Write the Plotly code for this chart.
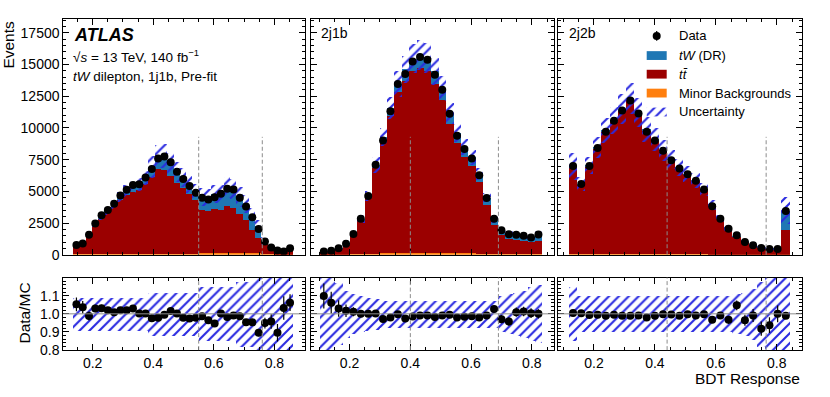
import numpy as np
import plotly.graph_objects as go
from plotly.subplots import make_subplots

W, H = 830, 397
FONT = "Liberation Sans, Arial, sans-serif"
COLORS = {
    "tw": "#1f77b4",
    "tt": "#9b0000",
    "minor": "#ff7f0e",
    "hatch": "#2a2ae0",
    "cut": "#8c8c8c",
}

# ---- 1j1b ----
edges_1j1b = (0.136, 0.862, 35)
range_1j1b = [0.103, 0.901]
cuts_1j1b = [0.55, 0.76]
data_1j1b = [760, 890, 1580, 2460, 3110, 3525, 4014, 4670, 5135, 5495, 5570, 6099, 6755, 7591, 7746,
             7295, 6550, 5970, 5417, 4889, 4503, 4349, 4540, 4812, 5210, 5147, 4503, 3809, 2959, 2035,
             1040, 566, 335, 257, 515]
mc_1j1b = [722, 859, 1598, 2391, 3016, 3456, 3978, 4578, 5034, 5340, 5559, 6087, 6928, 7762, 7785,
           7180, 6537, 6104, 5556, 4999, 4562, 4511, 4794, 4802, 5305, 5194, 4562, 3997, 3105, 2271,
           1096, 591, 374, 249, 485]
tw_1j1b = [29, 34, 64, 108, 151, 173, 219, 275, 327, 374, 417, 517, 762, 1009, 1090,
           933, 850, 794, 722, 650, 1049, 1038, 1199, 1249, 1485, 1506, 1369, 1279, 1118, 908,
           132, 59, 30, 20, 39]
minor_1j1b = [30, 35, 45, 55, 60, 65, 70, 75, 80, 80, 85, 90, 95, 100, 100,
              100, 95, 95, 90, 90, 170, 170, 175, 180, 185, 185, 180, 170, 150, 120,
              50, 30, 20, 15, 20]
unc_1j1b = [0.09] * 12 + [0.12] * 8 + [0.15] * 6 + [0.18] * 3 + [0.21] + [0.26] * 5

# ---- 2j1b ----
edges_2j1b = (0.103, 0.834, 30)
range_2j1b = [0.072, 0.873]
cuts_2j1b = [0.40, 0.69]
data_2j1b = [257, 309, 515, 875, 1647, 2831, 4632, 7102, 9007, 11323, 13459, 14256, 15234, 15594, 15389,
             14205, 13021, 11117, 9393, 8338, 7591, 6279, 4478, 2831, 1930, 1621, 1570, 1493, 1364, 1595]
mc_2j1b = [234, 291, 500, 860, 1629, 2831, 4632, 7088, 9276, 11554, 13486, 14622, 15466, 15736, 15529,
           14465, 13139, 11173, 9585, 8474, 7691, 6407, 4519, 2757, 1988, 1692, 1556, 1474, 1359, 1595]
tw_2j1b = [7, 9, 15, 26, 49, 85, 139, 213, 371, 578, 674, 877, 1005, 1023, 1009,
           1013, 920, 838, 767, 720, 692, 641, 587, 414, 437, 423, 405, 398, 381, 479]
minor_2j1b = [5, 6, 10, 18, 30, 50, 70, 90, 110, 120, 130, 140, 150, 150, 150,
              145, 140, 130, 120, 115, 110, 100, 80, 55, 40, 35, 33, 32, 30, 35]
unc_2j1b = [0.30, 0.22, 0.17, 0.13, 0.11, 0.10, 0.09, 0.085] + [0.075] * 16 + [0.10, 0.11, 0.12, 0.13, 0.15, 0.16]

# ---- 2j2b ----
edges_2j2b = (0.118, 0.843, 27)
range_2j2b = [0.083, 0.881]
cuts_2j2b = [0.44, 0.765]
data_2j2b = [7000, 5584, 7000, 8415, 9701, 10576, 11374, 12172, 11143, 9701, 9007, 8209, 7463, 6794,
             6356, 5841, 5147, 3834, 2831, 2059, 1544, 1004, 746, 540, 463, 463, 3448]
mc_2j2b = [6972, 5562, 7049, 8457, 9809, 10629, 11501, 12307, 11244, 9899, 9107, 8225, 7493, 6870,
           6369, 5894, 5157, 3965, 2857, 2129, 1475, 1041, 753, 588, 494, 463, 3486]
tw_2j2b = [50, 40, 50, 60, 70, 75, 80, 85, 80, 70, 65, 60, 55, 50,
           48, 45, 40, 32, 25, 20, 15, 12, 10, 9, 8, 10, 1556]
minor_2j2b = [40, 30, 40, 50, 55, 60, 65, 70, 65, 55, 50, 45, 42, 38,
              35, 33, 30, 22, 16, 12, 9, 6, 5, 4, 4, 4, 20]
unc_2j2b = [0.15] + [0.10] * 19 + [0.11, 0.12, 0.14, 0.18, 0.22, 0.25, 0.30]

regions = [
    ("1j1b", edges_1j1b, range_1j1b, cuts_1j1b, data_1j1b, mc_1j1b, tw_1j1b, minor_1j1b, unc_1j1b),
    ("2j1b", edges_2j1b, range_2j1b, cuts_2j1b, data_2j1b, mc_2j1b, tw_2j1b, minor_2j1b, unc_2j1b),
    ("2j2b", edges_2j2b, range_2j2b, cuts_2j2b, data_2j2b, mc_2j2b, tw_2j2b, minor_2j2b, unc_2j2b),
]

HATCH = dict(shape="/", fgcolor=COLORS["hatch"], bgcolor="rgba(0,0,0,0)", fgopacity=1,
             size=7, solidity=0.3)
CUT_LINE = dict(color=COLORS["cut"], width=1, dash="4px,2.5px")


def pp(x, y):
    return x / W, 1 - y / H


def ref(i):
    return "" if i == 1 else str(i)


fig = make_subplots(rows=2, cols=3)

for col, (name, (lo, hi, nb), xr, cuts, data, mc, tw, minor, unc) in enumerate(regions, start=1):
    edges = np.linspace(lo, hi, nb + 1)
    centers = 0.5 * (edges[:-1] + edges[1:])
    bw = edges[1] - edges[0]
    data = np.array(data, float)
    mc = np.array(mc, float)
    tw = np.array(tw, float)
    minor = np.array(minor, float)
    unc = np.array(unc, float)
    tt = mc - tw - minor

    bar = dict(x=centers, width=bw, marker_line_width=0, showlegend=False, hoverinfo="skip")
    fig.add_trace(go.Bar(y=minor, base=0, marker_color=COLORS["minor"], **bar), row=1, col=col)
    fig.add_trace(go.Bar(y=tt, base=minor, marker_color=COLORS["tt"], **bar), row=1, col=col)
    fig.add_trace(go.Bar(y=tw, base=minor + tt, marker_color=COLORS["tw"], **bar), row=1, col=col)
    fig.add_trace(go.Bar(y=2 * mc * unc, base=mc * (1 - unc), marker_color="rgba(0,0,0,0)",
                         marker_pattern=HATCH, **bar), row=1, col=col)
    fig.add_trace(go.Scatter(x=centers, y=data, mode="markers", showlegend=False,
                             marker=dict(color="black", size=8),
                             error_y=dict(type="data", array=np.sqrt(data), color="black", thickness=1.2, width=0)),
                  row=1, col=col)

    fig.add_trace(go.Bar(y=2 * unc, base=1 - unc, marker_color="rgba(0,0,0,0)",
                         marker_pattern=HATCH, **bar), row=2, col=col)
    fig.add_trace(go.Scatter(x=centers, y=data / mc, mode="markers", showlegend=False,
                             marker=dict(color="black", size=8),
                             error_y=dict(type="data", array=np.sqrt(data) / mc, color="black", thickness=1.2, width=0)),
                  row=2, col=col)

    top, bot = ref(col), ref(col + 3)
    for c in cuts:
        fig.add_shape(type="line", x0=c, x1=c, y0=0, y1=0.5, xref=f"x{top}", yref=f"y{top} domain", line=CUT_LINE)
        fig.add_shape(type="line", x0=c, x1=c, y0=0, y1=1, xref=f"x{bot}", yref=f"y{bot} domain", line=CUT_LINE)
    fig.add_shape(type="line", x0=0, x1=1, y0=1, y1=1, xref=f"x{bot} domain", yref=f"y{bot}",
                  line=dict(color=COLORS["cut"], width=1))

    axis_common = dict(ticks="inside", mirror="allticks", showline=True, linecolor="black", linewidth=1,
                       tickcolor="black", ticklen=6, showgrid=False, zeroline=False,
                       tickfont=dict(size=14, color="black"))
    xdom = {1: [63.3, 305.0], 2: [310.7, 554.0], 3: [558.3, 801.5]}[col]
    xdom = [xdom[0] / W, xdom[1] / W]
    xminor = dict(dtick=0.05, tick0=0, ticks="inside", ticklen=3, tickcolor="black")
    fig.update_xaxes(range=xr, domain=xdom, tickvals=[0.2, 0.4, 0.6, 0.8], minor=xminor,
                     showticklabels=False, **axis_common, row=1, col=col)
    fig.update_xaxes(range=xr, domain=xdom, tickvals=[0.2, 0.4, 0.6, 0.8], ticktext=["0.2", "0.4", "0.6", "0.8"],
                     minor=xminor, **axis_common, row=2, col=col)
    fig.update_yaxes(range=[0, 18600], domain=[1 - 260 / H, 1 - 19.3 / H], dtick=2500, tick0=0,
                     tickformat="d",
                     minor=dict(dtick=500, ticks="inside", ticklen=3, tickcolor="black"),
                     showticklabels=(col == 1), **axis_common, row=1, col=col)
    fig.update_yaxes(range=[0.8, 1.2], domain=[1 - 357.3 / H, 1 - 283.3 / H],
                     tickvals=[0.8, 0.9, 1.0, 1.1], ticktext=["0.8", "0.9", "1.0", "1.1"],
                     minor=dict(dtick=0.02, tick0=0, ticks="inside", ticklen=3, tickcolor="black"),
                     showticklabels=(col == 1), **axis_common, row=2, col=col)

# pixel-space overlay used only for the legend symbols
fig.update_layout(
    xaxis7=dict(domain=[0, 1], range=[0, W], visible=False, fixedrange=True, anchor="y7"),
    yaxis7=dict(domain=[0, 1], range=[H, 0], visible=False, fixedrange=True, anchor="x7"),
)
legend_rows = [
    ("Data", None, 36.7),
    ("<i>tW</i> (DR)", COLORS["tw"], 56.7),
    ("<i>t</i><i>t\u0304</i>", COLORS["tt"], 75.7),
    ("Minor Backgrounds", COLORS["minor"], 95.0),
    ("Uncertainty", "hatch", 114.3),
]
annotations = []


def text(xpx, ypx, s, size, **kw):
    x, y = pp(xpx, ypx)
    d = dict(x=x, y=y, xref="paper", yref="paper", text=s, showarrow=False,
             xanchor="left", yanchor="middle", font=dict(size=size))
    d.update(kw)
    return d


for label, color, yc in legend_rows:
    if color is None:
        fig.add_trace(go.Scatter(x=[656.7], y=[yc], xaxis="x7", yaxis="y7", mode="markers", showlegend=False,
                                 marker=dict(color="black", size=8),
                                 error_y=dict(type="constant", value=5, color="black", thickness=1.2, width=0)))
    else:
        rect = dict(x=[646.7, 666.7, 666.7, 646.7, 646.7], y=[yc - 4.5, yc - 4.5, yc + 4.5, yc + 4.5, yc - 4.5],
                    xaxis="x7", yaxis="y7", mode="lines", line=dict(width=0), fill="toself",
                    showlegend=False, hoverinfo="skip")
        if color == "hatch":
            fig.add_trace(go.Scatter(fillcolor="rgba(0,0,0,0)", fillpattern=HATCH, **rect))
        else:
            fig.add_trace(go.Scatter(fillcolor=color, **rect))
    annotations.append(text(677.0, yc, label, 13))

annotations += [
    text(72, 36, "<b><i>ATLAS</i></b>", 18),
    text(71, 57, "\u221a<i>s</i> = 13 TeV, 140 fb<sup>\u22121</sup>", 13.5),
    text(71, 78, "<i>tW</i> dilepton, 1j1b, Pre-fit", 13.5),
    text(319, 34, "2j1b", 14),
    text(567, 34, "2j2b", 14),
    text(9, 19, "Events", 15.5, textangle=-90, xanchor="center", yanchor="top"),
    text(25, 320, "Data/MC", 15.5, textangle=-90, xanchor="center"),
    text(802, 386, "BDT Response", 15.5, xanchor="right"),
]

fig.update_layout(
    width=W,
    height=H,
    margin=dict(l=0, r=0, t=0, b=0),
    barmode="overlay",
    bargap=0,
    paper_bgcolor="white",
    plot_bgcolor="rgba(0,0,0,0)",
    font=dict(family=FONT, color="black"),
    showlegend=False,
    annotations=annotations,
)

# the page's default body margin would push the figure 8 px right and down
fig.write_html("out.html", config={"displayModeBar": False},
               post_script="document.body.style.margin='0';")
